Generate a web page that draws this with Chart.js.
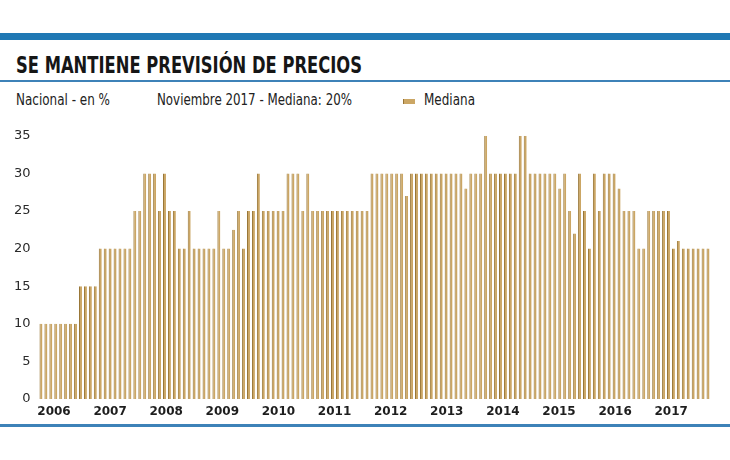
<!DOCTYPE html>
<html>
<head>
<meta charset="utf-8">
<script src="https://cdn.jsdelivr.net/npm/chart.js@4.4.1/dist/chart.umd.min.js"></script>
<style>
  body { margin: 0; background: #ffffff; }
  #page { position: relative; width: 730px; height: 460px; overflow: hidden; background: #fff;
          font-family: "DejaVu Sans", sans-serif; color: #1e1e1e; }
  .band { position: absolute; left: 0; width: 730px; background: #1f78b4; }
  .fit { position: absolute; white-space: nowrap; transform-origin: 0 0; }
  #title { left: 16px; top: 52px; font-size: 23px; font-weight: bold; color: #161616; }
  .sub { top: 91px; font-size: 15px; color: #222; }
  #swatch { position: absolute; left: 403px; top: 99px; width: 11px; height: 5px; background: #cba664; border-left: 1px solid #987535; }
  #wrap { position: absolute; left: 0; top: 120px; width: 730px; height: 300px; }
</style>
</head>
<body>
<div id="page">
  <div class="band" style="top:33px;height:7px;"></div>
  <div id="title" class="fit" data-w="346">SE MANTIENE PREVISIÓN DE PRECIOS</div>
  <div class="band" style="top:80px;height:2px;background:#3d82b8;"></div>
  <div class="fit sub" style="left:16px;" data-w="94">Nacional - en %</div>
  <div class="fit sub" style="left:157px;" data-w="195">Noviembre 2017 - Mediana: 20%</div>
  <div id="swatch"></div>
  <div class="fit sub" style="left:424px;" data-w="51">Mediana</div>
  <div id="wrap"><canvas id="chart"></canvas></div>
  <div class="band" style="top:424px;height:3px;background:#3d82b8;"></div>
</div>
<script>
// monthly survey, Aug 2006 - Nov 2017
const first_year = 2006;
const first_month = 8;
const month_count = 136;

const mediana = [
    10, 10, 10, 10, 10, 10, 10, 10,
    15, 15, 15, 15,
    20, 20, 20, 20, 20, 20, 20,
    25, 25,
    30, 30, 30,
    25, 30, 25, 25, 20, 20, 25,
    20, 20, 20, 20, 20,
    25, 20, 20, 22.5, 25, 20, 25, 25, 30,
    25, 25, 25, 25, 25,
    30, 30, 30, 25, 30,
    25, 25, 25, 25, 25, 25, 25, 25, 25, 25, 25, 25,
    30, 30, 30, 30, 30, 30, 30,
    27,
    30, 30, 30, 30, 30, 30, 30, 30, 30, 30, 30,
    28, 30, 30, 30,
    35,
    30, 30, 30, 30, 30, 30,
    35, 35,
    30, 30, 30, 30, 30, 30,
    28, 30, 25, 22, 30, 25, 20, 30, 25,
    30, 30, 30, 28, 25, 25, 25, 20, 20,
    25, 25, 25, 25, 25,
    20, 21,
    20, 20, 20, 20, 20, 20
];

const year_ticks = [2006, 2007, 2008, 2009, 2010, 2011, 2012, 2013, 2014, 2015, 2016, 2017];
const y_ticks = [0, 5, 10, 15, 20, 25, 30, 35];

let months = [];
for (let i = 0; i < month_count; i++) {
    const m = first_month - 1 + i;
    months.push((first_year + Math.floor(m / 12)) + '-' + String(m % 12 + 1).padStart(2, '0'));
}

// squeeze the header texts to the condensed widths of the original
document.querySelectorAll('.fit').forEach(el => {
    const w = el.getBoundingClientRect().width;
    el.style.transform = 'scaleX(' + (Number(el.dataset.w) / w) + ')';
});

const font_family = '"DejaVu Sans", sans-serif';

new Chart(document.getElementById('chart'), {
    type: 'bar',
    data: {
        labels: months,
        datasets: [{
            label: 'Mediana',
            data: mediana,
            backgroundColor: '#cba664',
            borderColor: '#987535',
            borderWidth: { left: 1, right: 0, top: 0, bottom: 0 },
            borderSkipped: false,
            barPercentage: 0.6,
            categoryPercentage: 1
        }]
    },
    options: {
        responsive: true,
        maintainAspectRatio: false,
        animation: false,
        layout: { padding: { top: 10, right: 19.5, bottom: 0, left: 0 } },
        plugins: { legend: { display: false }, tooltip: { enabled: false } },
        scales: {
            x: { display: false, offset: true },
            years: {
                type: 'linear',
                position: 'bottom',
                offset: false,
                bounds: 'data',
                min: 2005.724,
                max: 2017.70,
                afterBuildTicks: axis => { axis.ticks = year_ticks.map(v => ({ value: v })); },
                afterFit: axis => { axis.height = 21; },
                grid: { display: false, drawTicks: false },
                border: { display: false },
                ticks: {
                    autoSkip: false,
                    maxRotation: 0,
                    padding: 6,
                    color: '#1e1e1e',
                    font: { family: font_family, size: 12, weight: 'bold' },
                    callback: v => String(v)
                }
            },
            y: {
                min: 0,
                max: 35,
                afterBuildTicks: axis => { axis.ticks = y_ticks.map(v => ({ value: v })); },
                afterFit: axis => { axis.width = 38.5; },
                grid: { display: false, drawTicks: false },
                border: { display: false },
                ticks: {
                    padding: 8,
                    color: '#2a2a2a',
                    font: { family: font_family, size: 13 }
                }
            }
        }
    }
});
</script>
</body>
</html>
